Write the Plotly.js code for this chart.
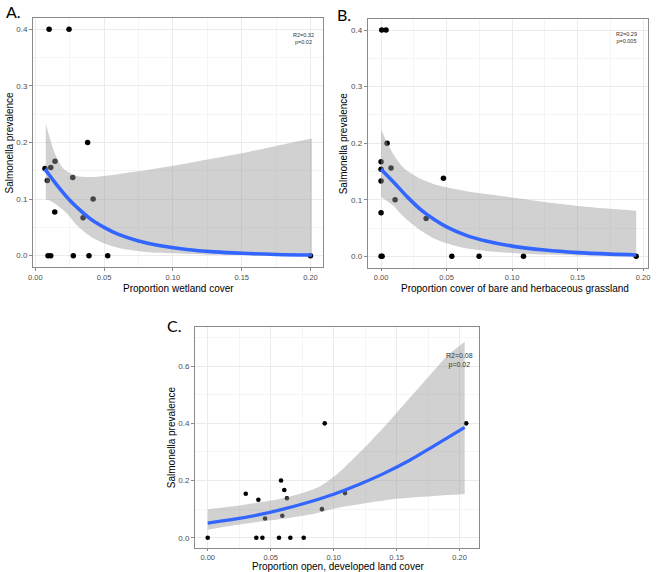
<!DOCTYPE html>
<html>
<head>
<meta charset="utf-8">
<script src="https://cdn.plot.ly/plotly-3.0.1.min.js"></script>
<style>html,body{margin:0;padding:0;background:#fff;}#chart{width:657px;height:572px;}</style>
</head>
<body>
<div id="chart"></div>
<script>
// ---------- Panel A: wetland cover ----------
const aX = [0.010, 0.0245, 0.007, 0.0087, 0.0112, 0.0143, 0.0141, 0.0272, 0.038, 0.042, 0.0347, 0.0092, 0.0112, 0.0276, 0.039, 0.0526, 0.200];
const aY = [0.4, 0.4, 0.154, 0.133, 0.156, 0.167, 0.077, 0.138, 0.2, 0.1, 0.067, 0, 0, 0, 0, 0, 0];
const fitAx = [0.007, 0.010, 0.015, 0.020, 0.025, 0.030, 0.040, 0.050, 0.060, 0.075, 0.090, 0.110, 0.130, 0.150, 0.175, 0.201];
const fitAy = [0.153, 0.143, 0.127, 0.112, 0.098, 0.086, 0.065, 0.050, 0.038, 0.026, 0.018, 0.011, 0.0068, 0.0042, 0.0022, 0.0012];
const bandAx = [0.0076, 0.010, 0.015, 0.020, 0.025, 0.030, 0.040, 0.050, 0.060, 0.075, 0.090, 0.110, 0.130, 0.150, 0.175, 0.201];
const upperA = [0.234, 0.212, 0.176, 0.155, 0.146, 0.141, 0.139, 0.141, 0.144, 0.149, 0.155, 0.163, 0.172, 0.181, 0.194, 0.207];
const lowerA = [0.099, 0.098, 0.091, 0.081, 0.069, 0.054, 0.034, 0.022, 0.014, 0.008, 0.005, 0.003, 0.0015, 0.001, 0.0005, 0.0003];

// ---------- Panel B: bare and herbaceous grassland ----------
const bX = [0.0005, 0.0038, 0.0046, 0, 0, 0, 0.0076, 0.0107, 0, 0.0344, 0.0476, 0, 0.0008, 0.054, 0.0748, 0.1087, 0.1947];
const bY = [0.4, 0.4, 0.2, 0.167, 0.154, 0.133, 0.156, 0.1, 0.077, 0.067, 0.138, 0, 0, 0, 0, 0, 0];
const fitBx = [0, 0.010, 0.020, 0.030, 0.040, 0.050, 0.065, 0.080, 0.100, 0.125, 0.150, 0.175, 0.1947];
const fitBy = [0.154, 0.130, 0.105, 0.083, 0.066, 0.052, 0.037, 0.027, 0.018, 0.011, 0.0065, 0.0038, 0.0024];
const bandBx = [0, 0.005, 0.010, 0.015, 0.020, 0.030, 0.040, 0.050, 0.065, 0.080, 0.100, 0.125, 0.150, 0.175, 0.1947];
const upperB = [0.224, 0.199, 0.178, 0.162, 0.151, 0.137, 0.128, 0.122, 0.115, 0.110, 0.104, 0.096, 0.089, 0.084, 0.0806];
const lowerB = [0.105, 0.097, 0.088, 0.075, 0.064, 0.046, 0.032, 0.023, 0.014, 0.0095, 0.006, 0.003, 0.0015, 0.0008, 0.0005];

// ---------- Panel C: open, developed land cover ----------
const cX = [0, 0.0302, 0.0402, 0.0386, 0.0434, 0.0455, 0.0566, 0.0582, 0.0608, 0.0592, 0.0629, 0.0656, 0.0762, 0.0907, 0.0929, 0.109, 0.2052];
const cY = [0, 0.154, 0.133, 0, 0, 0.067, 0, 0.2, 0.167, 0.077, 0.138, 0, 0, 0.1, 0.4, 0.156, 0.4];
const fitCx = [0, 0.02, 0.04, 0.06, 0.08, 0.10, 0.12, 0.14, 0.16, 0.18, 0.204];
const fitCy = [0.051, 0.064, 0.080, 0.100, 0.124, 0.152, 0.186, 0.225, 0.270, 0.322, 0.386];
const bandCx = [0, 0.02, 0.04, 0.06, 0.08, 0.09, 0.10, 0.11, 0.12, 0.13, 0.14, 0.15, 0.16, 0.17, 0.18, 0.19, 0.204];
const upperC = [0.100, 0.110, 0.123, 0.138, 0.163, 0.182, 0.213, 0.252, 0.295, 0.340, 0.387, 0.437, 0.487, 0.537, 0.587, 0.635, 0.685];
const lowerC = [0.028, 0.043, 0.055, 0.066, 0.080, 0.090, 0.101, 0.110, 0.117, 0.124, 0.130, 0.136, 0.140, 0.143, 0.146, 0.149, 0.153];

// ---------- Ticks and texts ----------
const xTickVals = [0, 0.05, 0.10, 0.15, 0.20];
const xTickText = ['0.00', '0.05', '0.10', '0.15', '0.20'];
const yTickValsAB = [0, 0.1, 0.2, 0.3, 0.4];
const yTickTextAB = ['0.0', '0.1', '0.2', '0.3', '0.4'];
const yTickValsC = [0, 0.2, 0.4, 0.6];
const yTickTextC = ['0.0', '0.2', '0.4', '0.6'];
const panelLabels = ['A.', 'B.', 'C.'];
const xTitles = ['Proportion wetland cover', 'Proportion cover of bare and herbaceous grassland', 'Proportion open, developed land cover'];
const yTitle = 'Salmonella prevalence';
const statTexts = ['R2=0.32<br>p=0.02', 'R2=0.29<br>p=0.005', 'R2=0.08<br>p=0.02'];

const FILL = 'rgba(153,153,153,0.45)';
const BLUE = '#3366FF';
const W = 657, H = 572;
const px = v => v / W;
const py = v => 1 - v / H;

function panel(xa, ya, xs, ys, fx, fy, bx, up, lo, msize, lw) {
  return [
    {type: 'scatter', mode: 'markers', x: xs, y: ys, xaxis: xa, yaxis: ya,
     marker: {color: '#000', size: msize}, hoverinfo: 'skip'},
    {type: 'scatter', mode: 'lines', x: bx, y: lo, xaxis: xa, yaxis: ya,
     line: {width: 0, shape: 'spline', smoothing: 0.8}, hoverinfo: 'skip'},
    {type: 'scatter', mode: 'lines', x: bx, y: up, xaxis: xa, yaxis: ya,
     line: {width: 0, shape: 'spline', smoothing: 0.8}, fill: 'tonexty', fillcolor: FILL, hoverinfo: 'skip'},
    {type: 'scatter', mode: 'lines', x: fx, y: fy, xaxis: xa, yaxis: ya,
     line: {color: BLUE, width: lw, shape: 'spline', smoothing: 1}, hoverinfo: 'skip'}
  ];
}

const data = [].concat(
  panel('x', 'y', aX, aY, fitAx, fitAy, bandAx, upperA, lowerA, 5.5, 3.6),
  panel('x2', 'y2', bX, bY, fitBx, fitBy, bandBx, upperB, lowerB, 5.5, 3.6),
  panel('x3', 'y3', cX, cY, fitCx, fitCy, bandCx, upperC, lowerC, 4.6, 3.2)
);

const tickFont = {family: 'Liberation Sans, Arial, sans-serif', size: 8, color: '#4d4d4d'};
const xTickFont = Object.assign({}, tickFont, {size: 7.5});
function xax(domain, range, anchor, tlen) {
  return {domain: domain, range: range, anchor: anchor, tickvals: xTickVals, ticktext: xTickText,
    showgrid: true, gridcolor: '#ebebeb', gridwidth: 1,
    minor: {dtick: 0.025, tick0: 0, showgrid: true, gridcolor: '#f5f5f5', gridwidth: 1},
    zeroline: false, showline: true, mirror: true, linecolor: '#8a8a8a', linewidth: 1,
    ticks: 'outside', ticklen: tlen, tickcolor: '#8a8a8a', tickfont: xTickFont, fixedrange: true};
}
function yax(domain, range, anchor, vals, text, minorD) {
  return {domain: domain, range: range, anchor: anchor, tickvals: vals, ticktext: text,
    showgrid: true, gridcolor: '#ebebeb', gridwidth: 1,
    minor: {dtick: minorD, tick0: 0, showgrid: true, gridcolor: '#f5f5f5', gridwidth: 1},
    zeroline: false, showline: true, mirror: true, linecolor: '#8a8a8a', linewidth: 1,
    ticks: 'outside', ticklen: 3, tickcolor: '#8a8a8a', tickfont: tickFont, fixedrange: true};
}

const titleFont = {family: 'Liberation Sans, Arial, sans-serif', size: 10, color: '#000'};
const labelFont = {family: 'Lato, Open Sans, sans-serif', size: 16, color: '#000'};
const statFont = {family: 'Liberation Sans, Arial, sans-serif', size: 5.5, color: '#333'};

function ann(text, x, y, font, extra) {
  return Object.assign({text: text, xref: 'paper', yref: 'paper', x: x, y: y,
    xanchor: 'center', yanchor: 'middle', showarrow: false, font: font}, extra || {});
}

const annotations = [
  ann(panelLabels[0], px(13), py(12), labelFont),
  ann(panelLabels[1], px(343.5), py(14.5), labelFont),
  ann(panelLabels[2], px(174), py(325), labelFont),
  ann(xTitles[0], px(178), py(288), titleFont),
  ann(xTitles[1], px(515), py(288), titleFont),
  ann(xTitles[2], px(337.5), py(566.8), titleFont),
  ann(yTitle, px(9), py(142.5), titleFont, {textangle: -90}),
  ann(yTitle, px(343.3), py(143), titleFont, {textangle: -90}),
  ann(yTitle, px(171.7), py(437.5), titleFont, {textangle: -90}),
  ann(statTexts[0], px(303), py(38), statFont),
  ann(statTexts[1], px(626.5), py(37), statFont),
  ann(statTexts[2], px(459.5), py(360.5), Object.assign({}, statFont, {size: 7}))
];

const layout = {
  width: W, height: H,
  margin: {l: 0, r: 0, t: 0, b: 0, pad: 0},
  paper_bgcolor: '#fff', plot_bgcolor: '#fff',
  showlegend: false,
  xaxis: xax([px(33), px(323)], [-0.0017, 0.2091], 'y', 2.5),
  yaxis: yax([py(267), py(18)], [-0.02, 0.42], 'x', yTickValsAB, yTickTextAB, 0.05),
  xaxis2: xax([px(367.7), px(647.7)], [-0.0102, 0.2035], 'y2', 2.5),
  yaxis2: yax([py(267.6), py(18.7)], [-0.02, 0.42], 'x2', yTickValsAB, yTickTextAB, 0.05),
  xaxis3: xax([px(195), px(479.3)], [-0.0101, 0.2156], 'y3', 2),
  yaxis3: yax([py(548.3), py(326.7)], [-0.037, 0.738], 'x3', yTickValsC, yTickTextC, 0.1),
  annotations: annotations
};

Plotly.newPlot('chart', data, layout, {displayModeBar: false, staticPlot: true});
</script>
</body>
</html>
